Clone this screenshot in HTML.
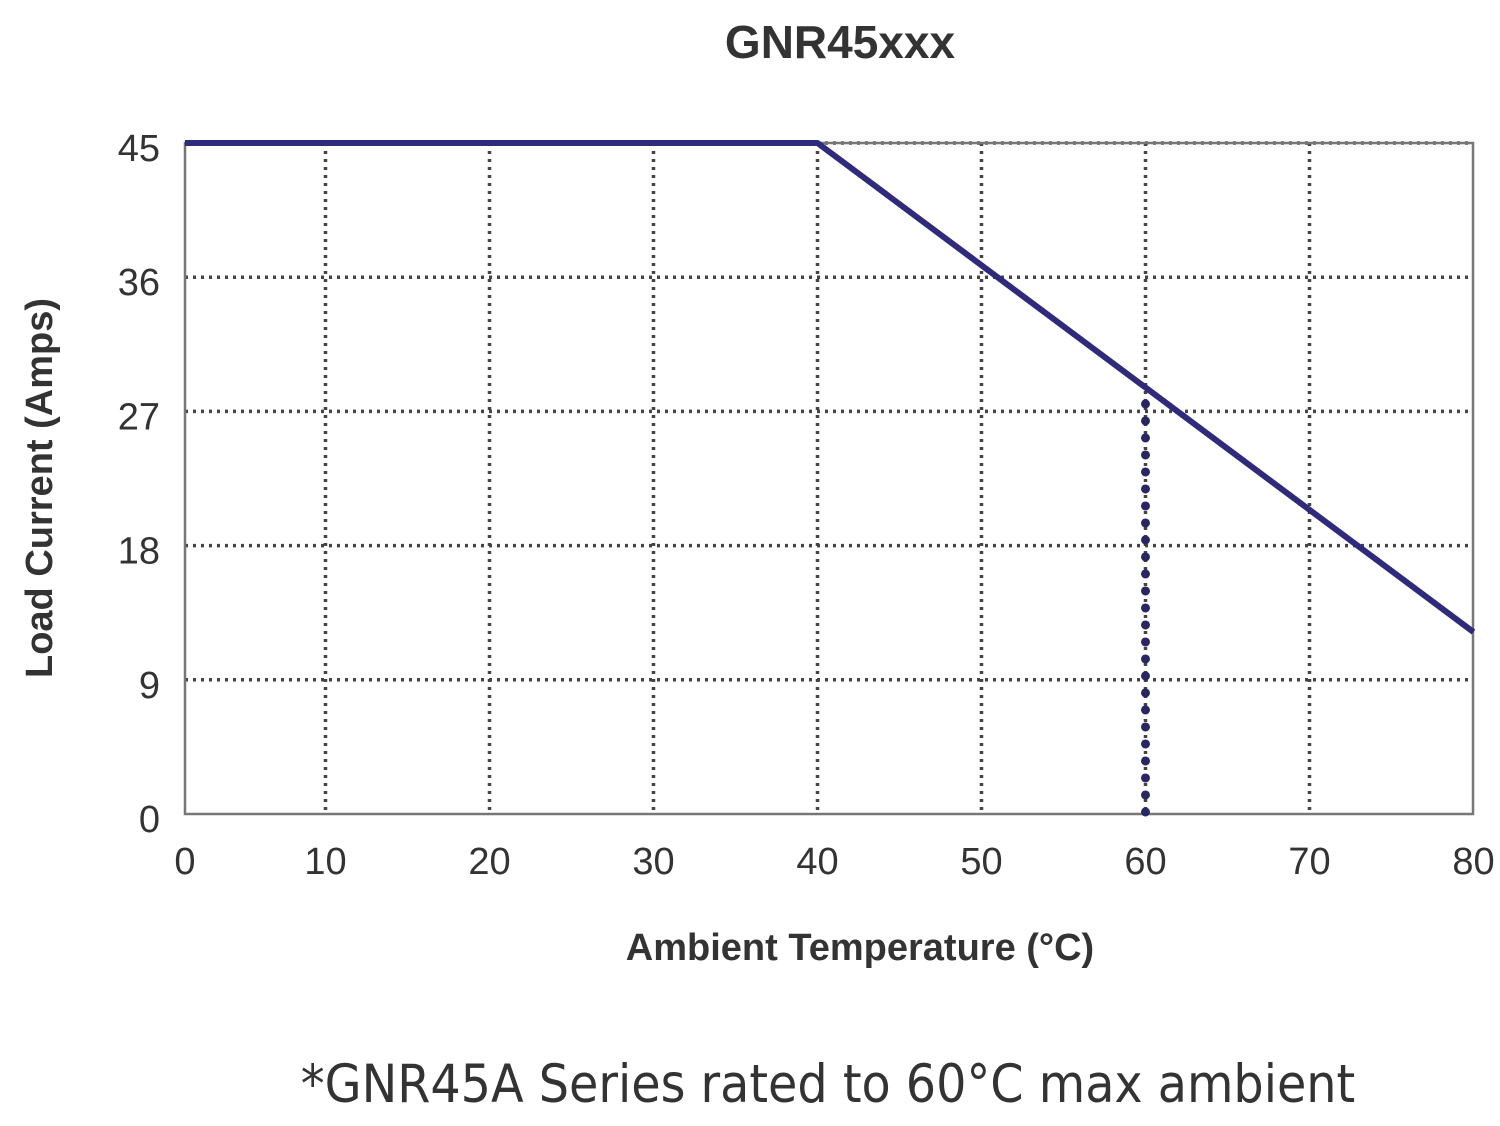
<!DOCTYPE html>
<html><head><meta charset="utf-8"><style>
html,body{margin:0;padding:0;background:#fff;}
svg{display:block;}
text{font-family:"Liberation Sans Narrow","Liberation Sans",sans-serif;fill:#333;}
</style></head><body>
<svg id="chart" width="1500" height="1126" viewBox="0 0 1500 1126">
<text x="840" y="58" text-anchor="middle" font-size="46" font-weight="bold">GNR45xxx</text>
<g id="grid"></g>
<rect x="185" y="143" width="1288" height="671" fill="none" stroke="#777" stroke-width="2.5"/>
<g id="series"></g>
<g id="ticks"></g>
<text x="0" y="0" transform="translate(52,488) rotate(-90)" text-anchor="middle" font-size="38" font-weight="bold">Load Current  (Amps)</text>
<text x="860" y="960" text-anchor="middle" font-size="38" font-weight="bold">Ambient Temperature (°C)</text>
<text x="828" y="1102" text-anchor="middle" font-size="53" style="font-family:'DejaVu Sans Condensed','Liberation Sans',sans-serif" fill="#222">*GNR45A Series rated to 60°C max ambient</text>
</svg>
<script>
const xTicks=[0,10,20,30,40,50,60,70,80];
const yTicks=[0,9,18,27,36,45];
const curveTemp=[0,40,80];
const curveAmps=[45,45,12.2];
const limitTemp=[60];
const limitAmps=[0,27.5];
const NS="http://www.w3.org/2000/svg";
const L=185,R=1473,T=143,B=814;
function x(v){return Math.max(L,161.5+v*16.4);}
function y(v){return B-(v/45)*(B-T);}
function mk(tag,attrs,parent){const e=document.createElementNS(NS,tag);for(const k in attrs)e.setAttribute(k,attrs[k]);parent.appendChild(e);return e;}
const grid=document.getElementById('grid'),ticks=document.getElementById('ticks'),series=document.getElementById('series');
xTicks.forEach(t=>{
  const px=x(t);
  if(t>0&&t<80){const g=mk('line',{x1:px,x2:px,y1:T,y2:B,stroke:'#444','stroke-width':3.5,'stroke-dasharray':'3 5'},grid);
  
  }
  const lb=mk('text',{x:px,y:874,'text-anchor':'middle','font-size':38},ticks);lb.textContent=t;
  
  
});
yTicks.forEach(t=>{
  const py=y(t);
  if(t>0){const g=mk('line',{x1:L,x2:R,y1:py,y2:py,stroke:'#444','stroke-width':3.5,'stroke-dasharray':'3 5'},grid);
  
  }
  const lb=mk('text',{x:160,y:py+18,'text-anchor':'end','font-size':38},ticks);lb.textContent=t;
  
  
});
const pts=curveTemp.map((t,i)=>x(t)+','+y(curveAmps[i])).join(' ');
const pl=mk('polyline',{points:pts,fill:'none',stroke:'#2f2b7a','stroke-width':6,'stroke-linejoin':'round'},series);


const lim=mk('line',{x1:x(limitTemp[0]),x2:x(limitTemp[0]),y1:y(limitAmps[1]),y2:y(limitAmps[0]),stroke:'#2a2660','stroke-width':9,'stroke-linecap':'round','stroke-dasharray':'0 17'},series);


</script>
</body></html>
